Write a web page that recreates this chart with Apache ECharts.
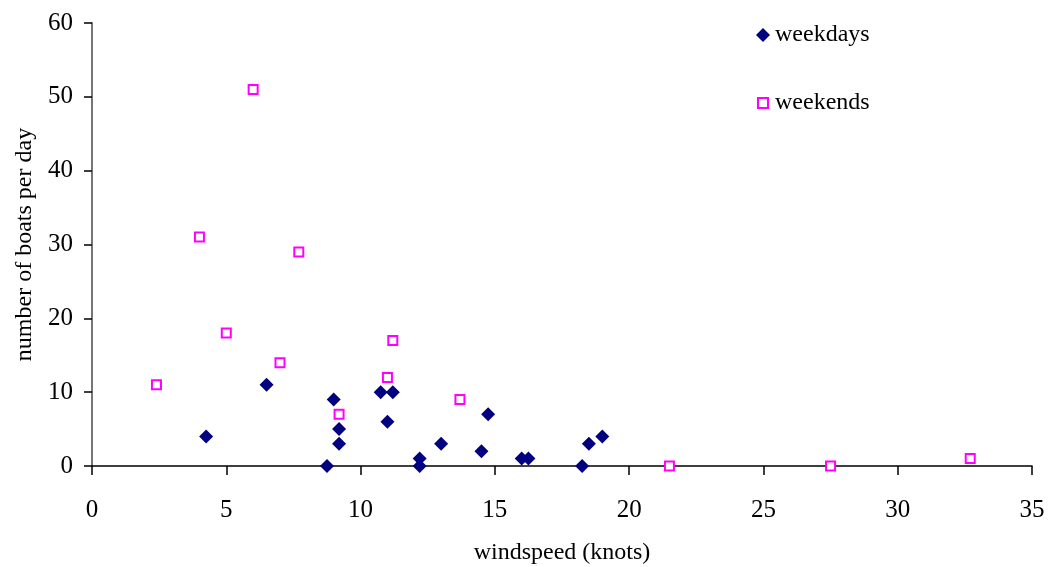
<!DOCTYPE html>
<html>
<head>
<meta charset="utf-8">
<script src="https://cdn.jsdelivr.net/npm/echarts@6/dist/echarts.min.js"></script>
<style>html,body{margin:0;padding:0;background:#fff}#c{width:1050px;height:567px}</style>
</head>
<body>
<div id="c"></div>
<script>
const weekdays = [
  [4.25, 4], [6.5, 11], [8.75, 0], [9, 9], [9.2, 5], [9.2, 3], [10.75, 10], [11.2, 10],
  [11, 6], [12.2, 1], [12.2, 0], [13, 3], [14.5, 2], [14.75, 7], [16, 1], [16.25, 1],
  [18.25, 0], [18.5, 3], [19, 4]
];
const weekends = [
  [2.4, 11], [4, 31], [5, 18], [6, 51], [7, 14], [7.7, 29], [9.2, 7], [11, 12],
  [11.2, 17], [13.7, 9], [21.5, 0], [27.5, 0], [32.7, 1]
];
const xTicks = { min: 0, max: 35, interval: 5 };
const yTicks = { min: 0, max: 60, interval: 10 };

const font = 'Liberation Serif, Times New Roman, serif';
const chart = echarts.init(document.getElementById('c'), null, { renderer: 'canvas' });
chart.setOption({
  animation: false,
  backgroundColor: '#fff',
  grid: { left: 92, right: 18, top: 23, bottom: 101, containLabel: false, outerBoundsMode: 'none' },
  legend: [
    {
      left: 751, top: 18, itemWidth: 14, itemHeight: 14,
      textStyle: { fontFamily: font, fontSize: 24, color: '#000' },
      data: [{ name: 'weekdays', icon: 'diamond' }]
    },
    {
      left: 752, top: 86, itemWidth: 10, itemHeight: 10,
      textStyle: { fontFamily: font, fontSize: 24, color: '#000', padding: [0, 0, 0, 2] },
      data: [{ name: 'weekends', icon: 'rect' }]
    }
  ],
  xAxis: {
    type: 'value', min: xTicks.min, max: xTicks.max, interval: xTicks.interval,
    name: 'windspeed (knots)', nameLocation: 'middle', nameGap: 75,
    nameTextStyle: { fontFamily: font, fontSize: 24, color: '#000' },
    axisLine: { show: true, onZero: false, lineStyle: { color: '#000', width: 1.5 } },
    axisTick: { show: true, length: 9, lineStyle: { color: '#000', width: 1.5 } },
    axisLabel: { fontFamily: font, fontSize: 25, color: '#000', margin: 32 },
    splitLine: { show: false }
  },
  yAxis: {
    type: 'value', min: yTicks.min, max: yTicks.max, interval: yTicks.interval,
    name: 'number of boats per day', nameLocation: 'middle', nameGap: 54, nameRotate: 90,
    nameTextStyle: { fontFamily: font, fontSize: 24, color: '#000' },
    axisLine: { show: true, onZero: false, lineStyle: { color: '#777', width: 2 } },
    axisTick: { show: true, length: 8, lineStyle: { color: '#000', width: 1.5 } },
    axisLabel: { fontFamily: font, fontSize: 25, color: '#000', margin: 19 },
    splitLine: { show: false }
  },
  series: [
    {
      name: 'weekdays', type: 'scatter', data: weekdays, symbol: 'diamond', symbolSize: 14,
      itemStyle: { color: '#000080', opacity: 1 }, z: 3
    },
    {
      name: 'weekends', type: 'scatter', data: weekends, symbol: 'rect', symbolSize: 9,
      itemStyle: { color: '#fff', borderColor: '#FF00FF', borderWidth: 2, opacity: 1 }, z: 2
    }
  ]
});
</script>
</body>
</html>
